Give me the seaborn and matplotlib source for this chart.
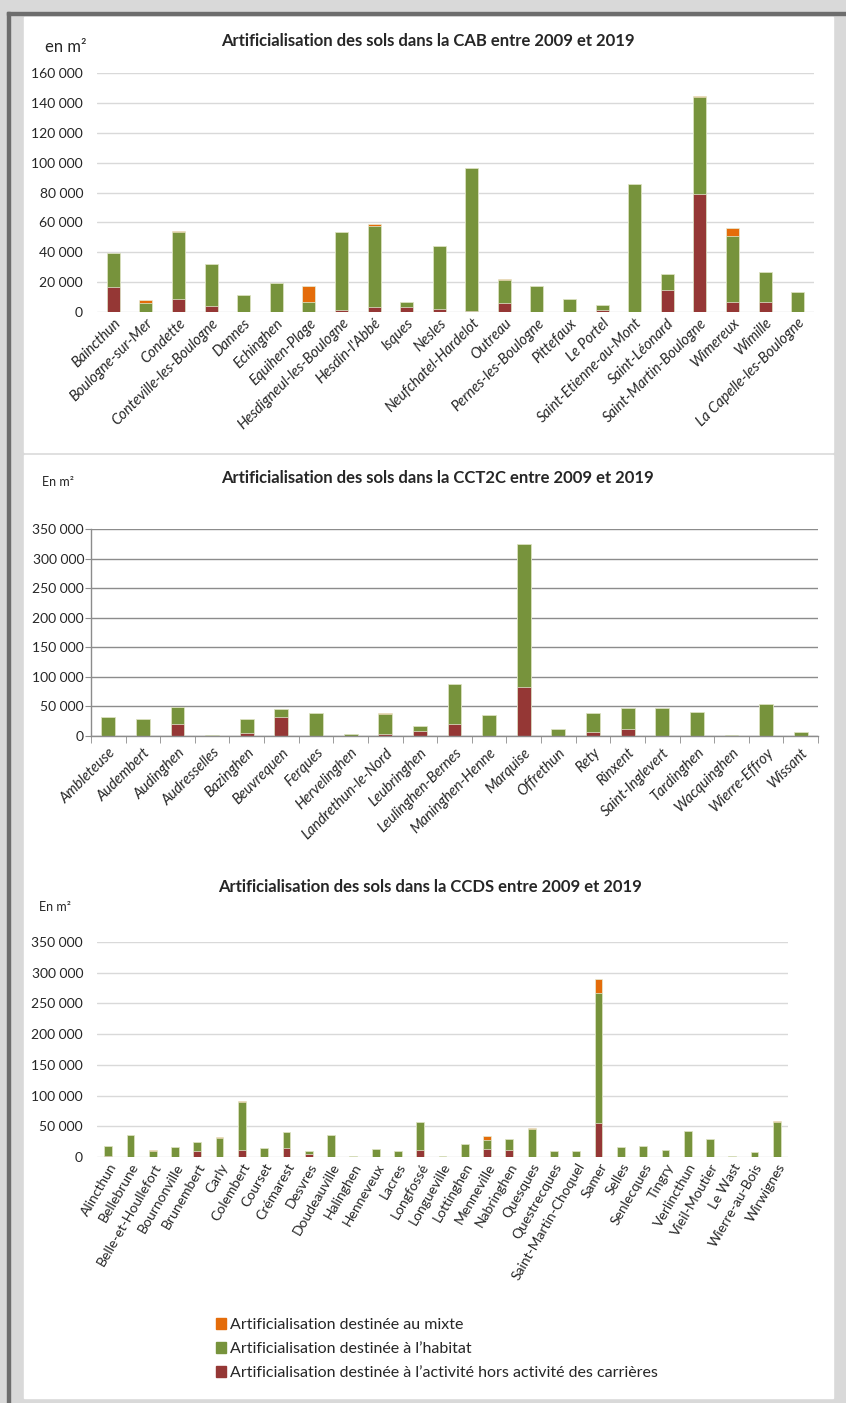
import numpy as np
import pandas as pd
import matplotlib
matplotlib.use("Agg")
import matplotlib.pyplot as plt
from matplotlib.patches import Rectangle, Patch
from matplotlib.ticker import FuncFormatter
import seaborn as sns

# --- CAB ---
cab_names = ["Baincthun", "Boulogne-sur-Mer", "Condette", "Conteville-les-Boulogne", "Dannes",
             "Echinghen", "Equihen-Plage", "Hesdigneul-les-Boulogne", "Hesdin-l'Abbé", "Isques",
             "Nesles", "Neufchatel-Hardelot", "Outreau", "Pernes-les-Boulogne", "Pittefaux",
             "Le Portel", "Saint-Etienne-au-Mont", "Saint-Léonard", "Saint-Martin-Boulogne",
             "Wimereux", "Wimille", "La Capelle-les-Boulogne"]
cab_activite = [17000, 0, 8900, 3800, 0, 0, 0, 1500, 3100, 3600, 2000, 900, 6200, 0, 0,
                1300, 0, 14900, 78900, 6500, 6900, 0]
cab_habitat = [22500, 5800, 44400, 28300, 11100, 19200, 6700, 52000, 54600, 3100, 42400, 95800,
               15400, 17200, 8700, 3200, 85800, 10300, 65050, 44100, 19800, 13400]
cab_mixte = [0, 2200, 1100, 0, 0, 0, 10400, 0, 1100, 0, 0, 0, 500, 0, 0, 0, 0, 0, 650, 5800, 0, 0]

# --- CCT2C ---
cct_names = ["Ambleteuse", "Audembert", "Audinghen", "Audresselles", "Bazinghen", "Beuvrequen",
             "Ferques", "Hervelinghen", "Landrethun-le-Nord", "Leubringhen", "Leulinghen-Bernes",
             "Maninghen-Henne", "Marquise", "Offrethun", "Rety", "Rinxent", "Saint-Inglevert",
             "Tardinghen", "Wacquinghen", "Wierre-Effroy", "Wissant"]
cct_activite = [0, 0, 19800, 0, 5600, 32700, 0, 0, 4000, 9000, 20300, 0, 82400, 0, 6800,
                11900, 0, 0, 0, 0, 0]
cct_habitat = [32000, 29400, 29300, 1100, 23200, 13000, 39000, 2800, 33800, 8500, 68300, 35000,
               241600, 11900, 31600, 36100, 46900, 40100, 1100, 53600, 6200]
cct_mixte = [0, 0, 0, 0, 0, 0, 0, 0, 1000, 0, 0, 0, 0, 0, 0, 0, 0, 0, 0, 0, 0]

# --- CCDS ---
ccds_names = ["Alincthun", "Bellebrune", "Belle-et-Houllefort", "Bournonville", "Brunembert",
              "Carly", "Colembert", "Courset", "Crémarest", "Desvres", "Doudeauville",
              "Halinghen", "Henneveux", "Lacres", "Longfossé", "Longueville", "Lottinghen",
              "Menneville", "Nabringhen", "Quesques", "Questrecques", "Saint-Martin-Choquel",
              "Samer", "Selles", "Senlecques", "Tingry", "Verlincthun", "Vieil-Moutier",
              "Le Wast", "Wierre-au-Bois", "Wirwignes"]
ccds_activite = [1500, 0, 0, 0, 9200, 0, 10900, 0, 14100, 4300, 0, 0, 0, 0, 10900, 0, 0,
                 13600, 10900, 0, 0, 0, 54900, 0, 0, 0, 0, 0, 0, 0, 0]
ccds_habitat = [17000, 36400, 9200, 16800, 15800, 30400, 78700, 14700, 27200, 6000, 36400,
                2200, 13600, 10300, 46100, 2200, 21200, 14100, 18400, 46200, 10300, 10300,
                211600, 16800, 17900, 11400, 41800, 28800, 2200, 8100, 56500]
ccds_mixte = [0, 0, 1700, 0, 0, 1600, 1600, 0, 0, 0, 0, 0, 0, 0, 0, 0, 0, 6500, 0, 1100, 0, 0,
              22700, 0, 0, 0, 1100, 0, 0, 0, 2700]

legend_labels = ["Artificialisation destinée au mixte",
                 "Artificialisation destinée à l\u2019habitat",
                 "Artificialisation destinée à l\u2019activité hors activité des carrières"]

RED, GREEN, ORANGE = "#953735", "#77933c", "#e46c0a"

sns.set_style("white")
plt.rcParams['font.family'] = ['Lato', 'DejaVu Sans']

W, H = 846, 1403
fig = plt.figure(figsize=(W / 100, H / 100), dpi=100)
fig.patch.set_facecolor("#d9d9d9")


def box(x0, y0, x1, y1, color):
    fig.patches.append(Rectangle((x0 / W, 1 - y1 / H), (x1 - x0) / W, (y1 - y0) / H,
                                 transform=fig.transFigure, color=color, zorder=-10))


box(7, 12, W, 15, "#6d6d6d")
box(7, 12, 10, H, "#6d6d6d")
box(24, 17, 833, 452, "white")
box(24, 455, 833, 1398, "white")


def axes_px(left, right, top, bottom):
    ax = fig.add_axes([left / W, 1 - bottom / H, (right - left) / W, (bottom - top) / H])
    ax.patch.set_alpha(0)
    return ax


def stacked(ax, names, act, hab, mix, width):
    df = pd.DataFrame({"commune": names, "act": act, "hab": hab, "mix": mix})
    df["s2"] = df["act"] + df["hab"]
    df["s3"] = df["s2"] + df["mix"]
    for col, c in [("s3", ORANGE), ("s2", GREEN), ("act", RED)]:
        sns.barplot(data=df, x="commune", y=col, order=names, color=c, saturation=1,
                    width=width, edgecolor="#e6edd5", linewidth=0.5, ax=ax)
    ax.set_xlim(-0.5, len(names) - 0.5)
    ax.set_xlabel("")
    ax.set_ylabel("")


fmt = FuncFormatter(lambda v, p: f"{int(v):,}".replace(",", " "))

# panel 1
ax1 = axes_px(97, 814, 73, 312)
stacked(ax1, cab_names, cab_activite, cab_habitat, cab_mixte, 0.4)
ax1.set_ylim(0, 160000)
ax1.set_yticks(np.arange(0, 160001, 20000))
ax1.yaxis.set_major_formatter(fmt)
ax1.grid(axis="y", color="#d9d9d9", linewidth=1)
ax1.set_axisbelow(True)
sns.despine(ax=ax1, left=True, bottom=True)
ax1.tick_params(axis="y", length=0, labelsize=10, pad=10)
ax1.tick_params(axis="x", length=0, pad=3)
for lab in ax1.get_xticklabels():
    lab.set(rotation=45, ha="right", rotation_mode="anchor", fontsize=10.5, style="italic")
fig.text(428 / W, 1 - 41 / H, "Artificialisation des sols dans la CAB entre 2009 et 2019",
         ha="center", va="center", fontsize=12, fontweight="bold")
fig.text(66 / W, 1 - 47 / H, "en m²", ha="center", va="center", fontsize=12)

# panel 2
ax2 = axes_px(91, 818, 529, 736)
stacked(ax2, cct_names, cct_activite, cct_habitat, cct_mixte, 0.4)
ax2.set_ylim(0, 350000)
ax2.set_yticks(np.arange(0, 350001, 50000))
ax2.yaxis.set_major_formatter(fmt)
ax2.grid(axis="y", color="#8c8c8c", linewidth=1)
ax2.set_axisbelow(True)
sns.despine(ax=ax2)
for s in ["left", "bottom"]:
    ax2.spines[s].set_color("#8c8c8c")
    ax2.spines[s].set_linewidth(1)
ax2.set_xticks(np.arange(len(cct_names) + 1) - 0.5, minor=True)
ax2.tick_params(axis="x", which="minor", length=5, color="#8c8c8c", bottom=True)
ax2.tick_params(axis="x", which="major", length=0, pad=7)
ax2.tick_params(axis="y", length=4, color="#8c8c8c", labelsize=10, pad=1, left=True)
for lab in ax2.get_xticklabels():
    lab.set(rotation=45, ha="right", rotation_mode="anchor", fontsize=10.5, style="italic")
fig.text(437 / W, 1 - 478 / H, "Artificialisation des sols dans la CCT2C entre 2009 et 2019",
         ha="center", va="center", fontsize=12, fontweight="bold")
fig.text(58 / W, 1 - 482 / H, "En m²", ha="center", va="center", fontsize=9)

# panel 3
ax3 = axes_px(97, 788, 942, 1157)
stacked(ax3, ccds_names, ccds_activite, ccds_habitat, ccds_mixte, 0.35)
ax3.set_ylim(0, 350000)
ax3.set_yticks(np.arange(0, 350001, 50000))
ax3.yaxis.set_major_formatter(fmt)
ax3.grid(axis="y", color="#d9d9d9", linewidth=1)
ax3.set_axisbelow(True)
sns.despine(ax=ax3, left=True, bottom=True)
ax3.tick_params(axis="y", length=0, labelsize=10, pad=10)
ax3.tick_params(axis="x", length=0, pad=3)
for lab in ax3.get_xticklabels():
    lab.set(rotation=60, ha="right", rotation_mode="anchor", fontsize=10)
fig.text(430 / W, 1 - 887 / H, "Artificialisation des sols dans la CCDS entre 2009 et 2019",
         ha="center", va="center", fontsize=12, fontweight="bold")
fig.text(55 / W, 1 - 907 / H, "En m²", ha="center", va="center", fontsize=9)

handles = [Patch(color=c) for c in [ORANGE, GREEN, RED]]
fig.legend(handles, legend_labels, loc="upper left", bbox_to_anchor=(216 / W, 1 - 1318 / H),
           frameon=False, fontsize=11.5, handlelength=0.6, handleheight=0.65,
           handletextpad=0.3, labelspacing=0.62, borderaxespad=0, borderpad=0)

fig.savefig("out.png", dpi=100, facecolor=fig.get_facecolor())
